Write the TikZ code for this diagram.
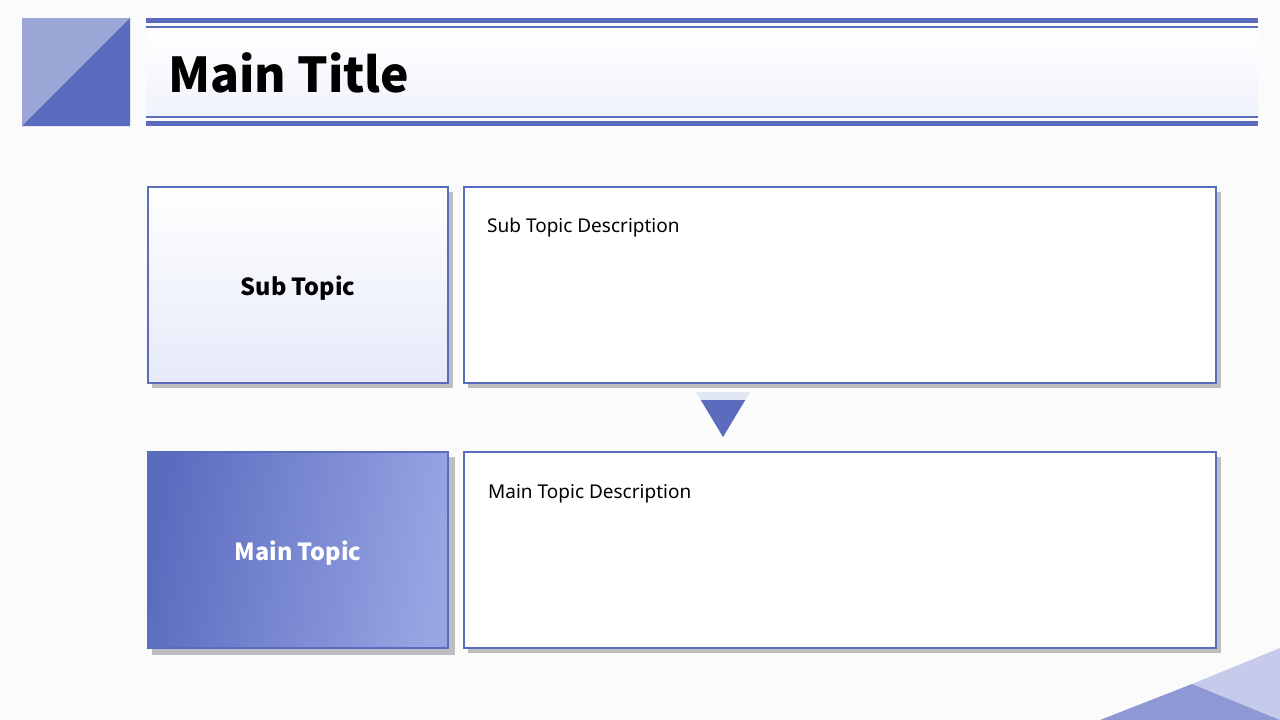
\documentclass[tikz,border=0pt]{standalone}
\usepackage{fontspec}
\setmainfont{Noto Sans}
\newfontfamily\headfont{Noto Sans CJK SC}
\definecolor{mainblue}{HTML}{5B6CBF}
\definecolor{lightblue}{HTML}{9BA6D6}
\definecolor{paleblue}{HTML}{E6EAF9}
\definecolor{gradend}{HTML}{97A5E3}
\definecolor{shadowgray}{HTML}{BEBEC0}
\definecolor{bgcol}{HTML}{FBFBFC}
\definecolor{tripale}{HTML}{E2E7F5}
\definecolor{cornerlight}{HTML}{C6CBEC}
\definecolor{cornerdark}{HTML}{8E98D5}
\tikzset{
  boxshadow/.style={fill=shadowgray, draw=none},
  subbox/.style={draw=mainblue, line width=2pt, top color=white, bottom color=paleblue},
  mainbox/.style={draw=mainblue, line width=2pt, left color=mainblue, right color=gradend, shading angle=80},
  descbox/.style={draw=mainblue, line width=2pt, fill=white},
  desctext/.style={anchor=west, font=\fontsize{19}{22}\selectfont, text=black, inner sep=0pt},
  topictext/.style={font=\headfont\bfseries\fontsize{23.5}{28}\selectfont, inner sep=0pt, yshift=-3pt}
}
\begin{document}
\begin{tikzpicture}[x=1pt,y=-1pt]
\useasboundingbox (0,0) rectangle (1280,720);
\fill[bgcol] (0,0) rectangle (1280,720);
% corner square
\fill[lightblue] (22,18) rectangle (130,126);
\fill[mainblue] (22,126) -- (130,18) -- (130,126) -- cycle;
% title bar
\shade[top color=white, bottom color=paleblue!60] (146,27) rectangle (1258,117);
\fill[mainblue] (146,18) rectangle (1258,22.5);
\fill[mainblue] (146,25.5) rectangle (1258,27.5);
\fill[mainblue] (146,116) rectangle (1258,118);
\fill[mainblue] (146,121) rectangle (1258,125.5);
\node[anchor=base west, inner sep=0pt, font=\headfont\bfseries\fontsize{48}{52}\selectfont] (title) at (168,92) {Main Title};
% shadows
\fill[boxshadow] (152,192) rectangle (453,388);
\fill[boxshadow] (468,192) rectangle (1221,388);
\fill[boxshadow] (152,457) rectangle (455,655);
\fill[boxshadow] (468,457) rectangle (1221,653);
% boxes
\node[subbox, minimum width=300pt, minimum height=196pt, anchor=north west, inner sep=0pt] (sub) at (147,186) {};
\node[topictext] at (sub.center) {Sub Topic};
\node[descbox, minimum width=752pt, minimum height=196pt, anchor=north west, inner sep=0pt] (subdesc) at (463,186) {};
\node[desctext] at (487,228) {Sub Topic Description};
\node[mainbox, minimum width=300pt, minimum height=196pt, anchor=north west, inner sep=0pt] (main) at (147,451) {};
\node[topictext, text=white] at (main.center) {Main Topic};
\node[descbox, minimum width=752pt, minimum height=196pt, anchor=north west, inner sep=0pt] (maindesc) at (463,451) {};
\node[desctext] at (488,494) {Main Topic Description};
% arrow triangle
\fill[tripale] (696,392) -- (750,392) -- (723,437) -- cycle;
\fill[mainblue] (700.8,400) -- (745.2,400) -- (723,437) -- cycle;
% bottom right corner
\fill[cornerlight] (1192,684) -- (1280,648) -- (1280,720) -- cycle;
\fill[cornerdark] (1100,720) -- (1192,684) -- (1280,720) -- cycle;
\end{tikzpicture}
\end{document}
